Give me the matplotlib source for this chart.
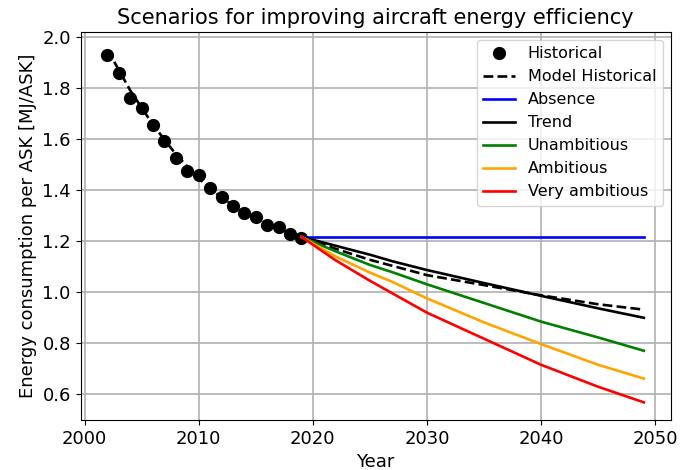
import numpy as np
import matplotlib
matplotlib.use("Agg")
import matplotlib.pyplot as plt


# ------------ DATA ------------

hist_years = list(range(2002, 2020))
hist_values = [1.927, 1.86, 1.76, 1.72, 1.656, 1.593, 1.527, 1.476, 1.46,
               1.407, 1.373, 1.336, 1.309, 1.293, 1.264, 1.256, 1.229, 1.213]

model_years = [2002, 2004, 2006, 2008, 2010, 2012, 2014, 2016, 2019,
               2022, 2025, 2030, 2035, 2040, 2045, 2049]
model_values = [1.95, 1.79, 1.655, 1.54, 1.445, 1.37, 1.31, 1.265, 1.215,
                1.17, 1.127, 1.067, 1.028, 0.988, 0.953, 0.932]

proj_years = [2019, 2022, 2025, 2027, 2030, 2035, 2040, 2045, 2049]
absence = [1.217, 1.217, 1.217, 1.217, 1.217, 1.217, 1.217, 1.217, 1.217]
trend = [1.217, 1.182, 1.147, 1.121, 1.087, 1.036, 0.986, 0.937, 0.90]
unambitious = [1.217, 1.16, 1.107, 1.078, 1.031, 0.958, 0.885, 0.823, 0.771]
ambitious = [1.217, 1.14, 1.077, 1.040, 0.976, 0.882, 0.797, 0.716, 0.662]
very_ambitious = [1.217, 1.125, 1.045, 0.995, 0.92, 0.818, 0.716, 0.63, 0.569]

scenarios = [
    ("Absence", absence, "blue"),
    ("Trend", trend, "black"),
    ("Unambitious", unambitious, "green"),
    ("Ambitious", ambitious, "orange"),
    ("Very ambitious", very_ambitious, "red"),
]


# ------------ PLOT ------------

fig = plt.figure(figsize=(6.99, 4.70), dpi=100)
ax = fig.add_axes([0.1153, 0.1064, 0.8442, 0.8256])

ax.plot(hist_years, hist_values, "ko", markersize=8.5, label="Historical")
ax.plot(model_years, model_values, "k--", linewidth=1.9, label="Model Historical")

for name, values, color in scenarios:
    ax.plot(proj_years, values, color=color, linewidth=1.9, label=name)

ax.set_title("Scenarios for improving aircraft energy efficiency", fontsize=15)
ax.set_xlabel("Year", fontsize=13)
ax.set_ylabel("Energy consumption per ASK [MJ/ASK]", fontsize=13)
ax.tick_params(labelsize=13)
ax.set_xticks([2000, 2010, 2020, 2030, 2040, 2050])
ax.set_yticks([0.6, 0.8, 1.0, 1.2, 1.4, 1.6, 1.8, 2.0])
ax.grid(True, linewidth=1.2)
ax.legend(loc="upper right", fontsize=11.5)

fig.savefig("out.png", dpi=100)
